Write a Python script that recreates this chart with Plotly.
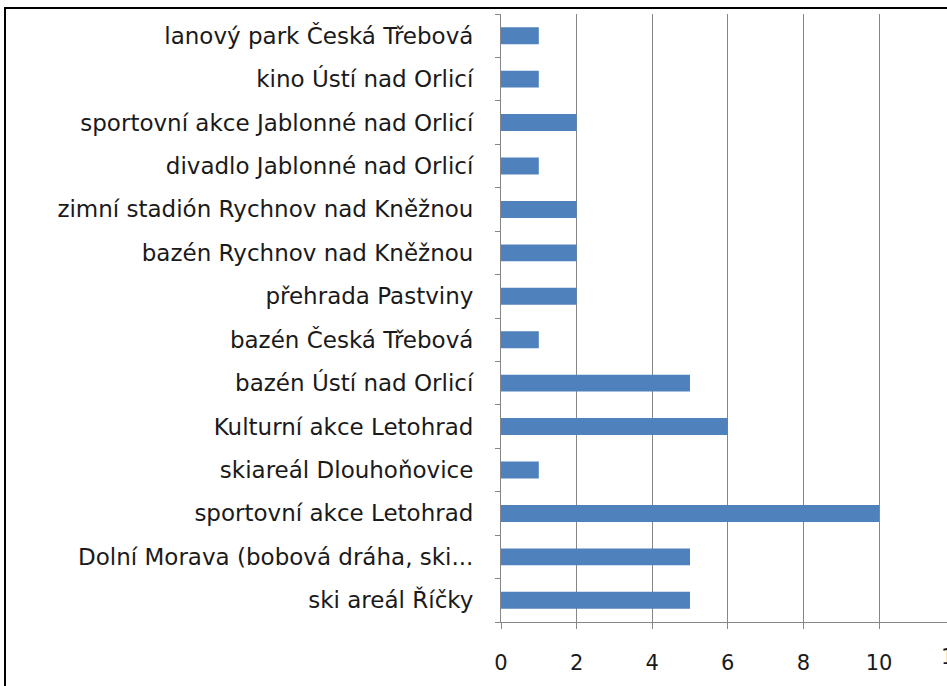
import plotly.graph_objects as go

categories = [
    "ski areál Říčky",
    "Dolní Morava (bobová dráha, ski...",
    "sportovní akce Letohrad",
    "skiareál Dlouhoňovice",
    "Kulturní akce Letohrad",
    "bazén Ústí nad Orlicí",
    "bazén Česká Třebová",
    "přehrada Pastviny",
    "bazén Rychnov nad Kněžnou",
    "zimní stadión Rychnov nad Kněžnou",
    "divadlo Jablonné nad Orlicí",
    "sportovní akce Jablonné nad Orlicí",
    "kino Ústí nad Orlicí",
    "lanový park Česká Třebová",
]
values = [5, 5, 10, 1, 6, 5, 1, 2, 2, 2, 1, 2, 1, 1]
x_ticks = [0, 2, 4, 6, 8, 10]

W, H = 947, 686
L, R, T, B = 501, 0, 14, 64
pw, ph = W - L - R, H - T - B
xmax = (W - L) / 37.8

font = dict(family="DejaVu Sans, sans-serif", size=21, color="#1a1a1a")
yfont = dict(family="DejaVu Sans, sans-serif", size=23, color="#1a1a1a")
grid = "#868686"

fig = go.Figure(go.Bar(
    x=values, y=categories, orientation="h",
    marker=dict(color="#4F81BD", line=dict(width=0)),
))

def px2paperx(p):
    return (p - L) / pw

def px2papery(p):
    return (H - B - p) / ph

fig.update_layout(
    width=W, height=H,
    margin=dict(l=L, r=R, t=T, b=B, pad=0),
    paper_bgcolor="white", plot_bgcolor="white",
    bargap=0.61, showlegend=False, font=font,
    xaxis=dict(
        range=[0, xmax], tickvals=x_ticks, ticktext=[str(v) for v in x_ticks],
        showgrid=True, gridcolor=grid, gridwidth=1,
        showline=True, linecolor=grid, linewidth=1,
        ticks="outside", ticklen=6, tickcolor=grid, tickwidth=1,
        ticklabelstandoff=16, zeroline=False, fixedrange=True,
    ),
    yaxis=dict(
        type="category", categoryorder="array", categoryarray=categories,
        tickson="boundaries", ticks="outside", ticklen=5, tickcolor=grid,
        showline=True, linecolor=grid, linewidth=1, showgrid=False,
        ticklabelstandoff=22, fixedrange=True, tickfont=yfont,
    ),
    shapes=[
        dict(type="line", xref="paper", yref="paper",
             x0=px2paperx(5), x1=px2paperx(5), y0=px2papery(7), y1=px2papery(H + 5),
             line=dict(color="black", width=2)),
        dict(type="line", xref="paper", yref="paper",
             x0=px2paperx(4), x1=px2paperx(W + 10), y0=px2papery(8), y1=px2papery(8),
             line=dict(color="black", width=2)),
    ],
    annotations=[
        dict(text="12", xref="paper", yref="paper", x=px2paperx(501 + 12 * 37.8),
             y=px2papery(657), xanchor="center", yanchor="middle", showarrow=False,
             font=font),
    ],
)

fig.write_html(
    "out.html",
    config={"displayModeBar": False},
    post_script="document.body.style.margin='0';document.body.style.overflow='hidden';",
)
